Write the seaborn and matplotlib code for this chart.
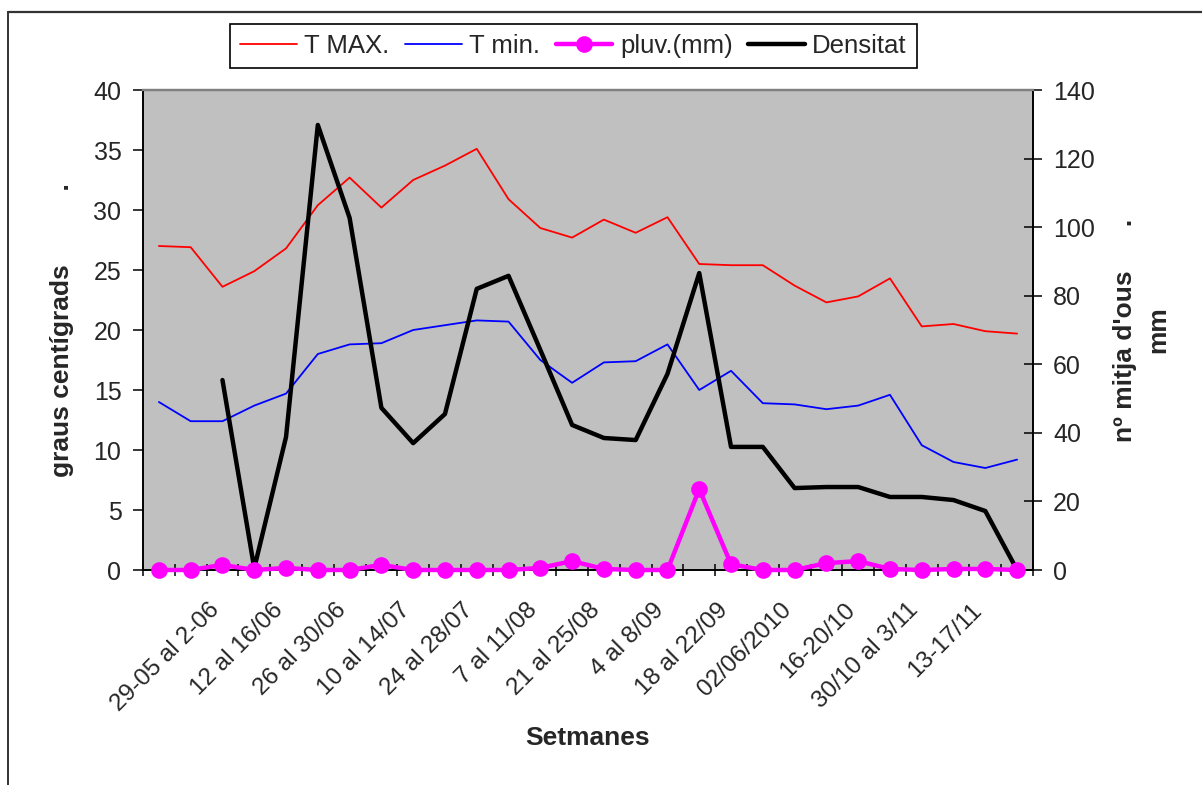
import numpy as np
import pandas as pd
import seaborn as sns
import matplotlib.pyplot as plt
from matplotlib.transforms import ScaledTranslation
from matplotlib.lines import Line2D

sns.set_style("ticks")
plt.rcParams['font.family'] = ['Liberation Sans', 'DejaVu Sans']

# ---- data (28 weekly samples) ----
week_index = list(range(28))
tick_labels = ["29-05 al 2-06", "12 al 16/06", "26 al 30/06", "10 al 14/07",
               "24 al 28/07", "7 al 11/08", "21 al 25/08", "4 al 8/09",
               "18 al 22/09", "02/06/2010", "16-20/10", "30/10 al 3/11", "13-17/11"]
t_max = [27.0, 26.9, 23.6, 24.9, 26.8, 30.4, 32.7, 30.2, 32.5, 33.7, 35.1, 30.9, 28.5, 27.7,
         29.2, 28.1, 29.4, 25.5, 25.4, 25.4, 23.7, 22.3, 22.8, 24.3, 20.3, 20.5, 19.9, 19.7]
t_min = [14.0, 12.4, 12.4, 13.7, 14.7, 18.0, 18.8, 18.9, 20.0, 20.4, 20.8, 20.7, 17.5, 15.6,
         17.3, 17.4, 18.8, 15.0, 16.6, 13.9, 13.8, 13.4, 13.7, 14.6, 10.4, 9.0, 8.5, 9.2]
pluv = [0.0, 0.0, 1.5, 0.0, 0.6, 0.0, 0.0, 1.5, 0.0, 0.0, 0.0, 0.0, 0.6, 2.6,
        0.3, 0.0, 0.0, 23.6, 1.7, 0.0, 0.0, 2.0, 2.6, 0.3, 0.0, 0.3, 0.3, 0.0]
densitat = [np.nan, np.nan, 55.4, 0.5, 38.8, 129.8, 102.7, 47.3, 37.0, 45.5, 82.0, 85.8, 64.2, 42.3,
            38.5, 37.9, 57.2, 86.6, 35.9, 35.9, 23.9, 24.2, 24.2, 21.3, 21.3, 20.4, 17.2, 0.0]

df = pd.DataFrame({"idx": week_index, "tmax": t_max, "tmin": t_min,
                   "pluv": pluv, "dens": densitat})

W, H = 1202, 785
fig = plt.figure(figsize=(W / 100, H / 100), dpi=100)
ax = fig.add_axes([143 / W, 215 / H, 890 / W, 480 / H])
ax.set_facecolor('#C0C0C0')
ax2 = ax.twinx()

sns.lineplot(data=df, x="idx", y="tmax", ax=ax, color="#FF0000", lw=1.3, legend=False)
sns.lineplot(data=df, x="idx", y="tmin", ax=ax, color="#0000FF", lw=1.3, legend=False)
sns.lineplot(data=df, x="idx", y="dens", ax=ax2, color="black", lw=3.2, legend=False)
sns.lineplot(data=df, x="idx", y="pluv", ax=ax2, color="#FF00FF", lw=3.2, marker="o",
             markersize=12, markeredgewidth=0, legend=False)
for ln in ax2.get_lines():
    ln.set_clip_on(False)
    ln.set_zorder(5)

# axes limits & ticks
ax.set_xlim(-0.5, 27.5)
ax.set_ylim(0, 40)
ax2.set_ylim(0, 140)
ax.set_yticks(np.arange(0, 41, 5))
ax2.set_yticks(np.arange(0, 141, 20))

ax.set_xticks(week_index[0:26:2])
ax.set_xticklabels(tick_labels, rotation=45, ha='right', va='top', rotation_mode='anchor')
ax.set_xticks(np.arange(-0.5, 28, 1), minor=True)
ax.tick_params(axis='x', which='major', length=0, pad=0, labelsize=17.5)
ax.tick_params(axis='x', which='minor', direction='inout', length=9, width=1.1, color='black')
off = ScaledTranslation(0.49, -0.29, fig.dpi_scale_trans)
for lab in ax.get_xticklabels():
    lab.set_transform(lab.get_transform() + off)

ax.tick_params(axis='y', direction='out', length=7.5, width=1.1, pad=8, labelsize=18, color='black')
ax2.tick_params(axis='y', direction='inout', length=13, width=1.1, pad=8, labelsize=18, color='black')

for a in (ax, ax2):
    for s in a.spines.values():
        s.set_color('black')
        s.set_linewidth(1.2)
    a.spines['top'].set_color('#808080')
    a.spines['top'].set_linewidth(1.6)

# labels
ax.set_xlabel("Setmanes", fontsize=19, fontweight='bold')
ax.xaxis.set_label_coords(0.5, -0.325)
ax.set_ylabel("graus centígrads" + " " * 10 + ".", fontsize=19, fontweight='bold')
ax.yaxis.set_label_coords(-0.078, 0.5)
ax2.set_ylabel("nº mitja d'ous" + " " * 6 + ".\nmm", fontsize=19, fontweight='bold',
               rotation=90, va='top', linespacing=1.5)
ax2.yaxis.set_label_coords(1.09, 0.5)

# legend
h = [ax.get_lines()[0], ax.get_lines()[1], ax2.get_lines()[1], ax2.get_lines()[0]]
leg = fig.legend(h, ["T MAX.", "T min.", "pluv.(mm)", "Densitat"], loc='center',
                 bbox_to_anchor=(573.5 / W, 1 - 46 / H), ncol=4, frameon=True,
                 fancybox=False, edgecolor='black', framealpha=1, fontsize=18.5,
                 handlelength=2.2, handletextpad=0.3, columnspacing=0.6, borderpad=0.4)
leg.get_frame().set_linewidth(1.2)

# outer chart frame (left and top edges visible)
fig.add_artist(Line2D([8 / W, 8 / W], [0, 1 - 12 / H], transform=fig.transFigure,
                      color='#222222', lw=1.3))
fig.add_artist(Line2D([8 / W, 1], [1 - 12 / H, 1 - 12 / H], transform=fig.transFigure,
                      color='#333333', lw=1.6))

fig.savefig("out.png", dpi=100)
